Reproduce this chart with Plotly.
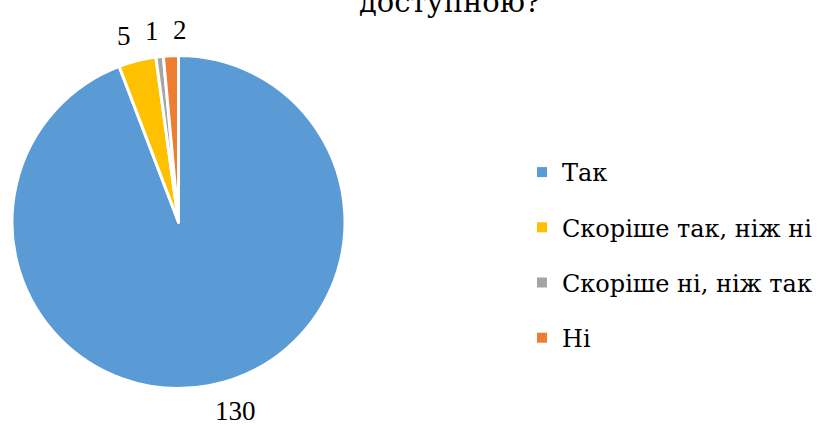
import math
import plotly.graph_objects as go

labels = ["Так", "Скоріше так, ніж ні", "Скоріше ні, ніж так", "Ні"]
values = [130, 5, 1, 2]
colors = ["#5B9BD5", "#FFC000", "#A5A5A5", "#ED7D31"]
title_tail = "доступною?"

FONT = "DejaVu Serif"
NUM_FONT = "Liberation Serif"
W, H = 828, 425

# pie domain (paper fractions)
dom_x = [12 / W, 345 / W]
dom_y = [36 / H, 370 / H]

fig = go.Figure()
fig.add_trace(go.Pie(
    labels=labels, values=values, sort=False, direction="clockwise", rotation=0,
    marker=dict(colors=colors, line=dict(color="white", width=3)),
    textinfo="none", hoverinfo="label+value",
    showlegend=False,
    domain=dict(x=dom_x, y=dom_y),
))
for i, (lab, col) in enumerate(zip(labels, colors)):
    fig.add_trace(go.Scatter(
        x=[None], y=[None], mode="markers", name=lab, legendgroup=f"g{i}",
        marker=dict(symbol="square", size=10, color=col),
    ))

# value labels outside each slice, at its mid-angle
cx = (dom_x[0] + dom_x[1]) / 2 * W
cy = (1 - (dom_y[0] + dom_y[1]) / 2) * H
r = min((dom_x[1] - dom_x[0]) * W, (dom_y[1] - dom_y[0]) * H) / 2
r_lab = r + 26
total = sum(values)
pos = []
cum = 0
for v in values:
    mid = (cum + v / 2) / total * 2 * math.pi
    cum += v
    pos.append([cx + r_lab * math.sin(mid), cy - r_lab * math.cos(mid)])
# spread crowded labels horizontally around their centroid
min_gap = 28
crowd = [i for i in range(len(values)) if values[i] / total < 0.1]
if crowd:
    xs = [pos[i][0] for i in crowd]
    mean = sum(xs) / len(xs)
    order = sorted(crowd, key=lambda i: pos[i][0])
    n = len(order)
    for k, i in enumerate(order):
        pos[i][0] = mean + (k - (n - 1) / 2) * min_gap
for v, (px, py) in zip(values, pos):
    fig.add_annotation(
        text=str(v), xref="paper", yref="paper", x=px / W, y=1 - py / H,
        xanchor="left" if px > cx + 10 else "center", yanchor="middle",
        showarrow=False,
        font=dict(family=NUM_FONT, size=27, color="black"),
    )

fig.add_annotation(
    text=title_tail, xref="paper", yref="paper", x=450 / W, y=(H - 21) / H,
    xanchor="center", yanchor="bottom", showarrow=False,
    font=dict(family=FONT, size=29, color="black"),
)

fig.update_layout(
    width=W, height=H,
    margin=dict(l=0, r=0, t=0, b=0, autoexpand=False),
    font=dict(family=FONT, color="black"),
    paper_bgcolor="white", plot_bgcolor="white",
    xaxis=dict(visible=False), yaxis=dict(visible=False),
    legend=dict(x=522 / W, y=(H - 255) / H, xanchor="left", yanchor="middle",
                font=dict(family=FONT, size=24, color="black"),
                tracegroupgap=21, itemwidth=30),
)

fig.write_html("out.html", config={"displayModeBar": False},
               post_script="document.body.style.margin='0';")
